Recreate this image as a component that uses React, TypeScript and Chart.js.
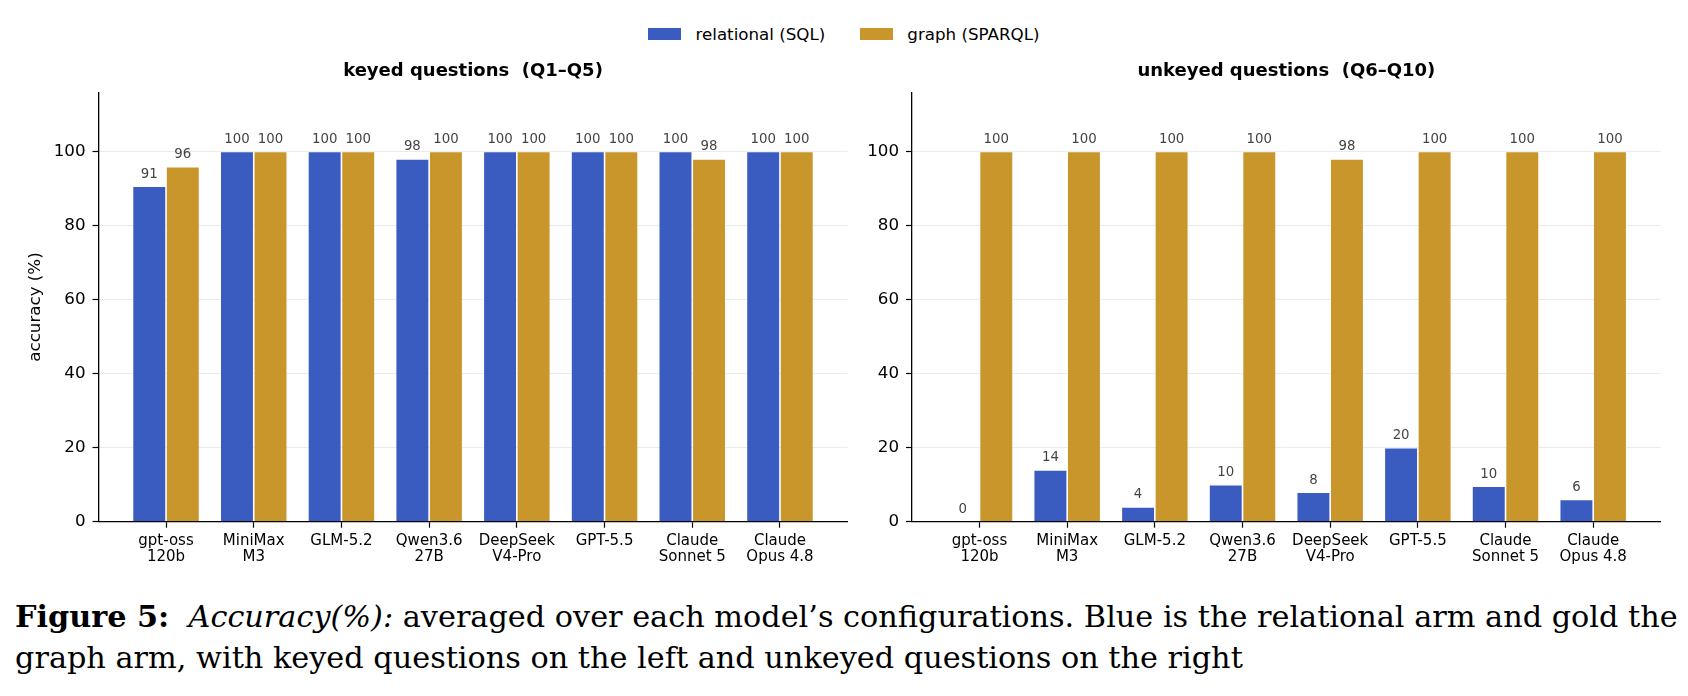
import { useEffect, useRef } from 'react';
import { Chart, registerables } from 'chart.js';

Chart.register(...registerables);
Chart.defaults.font.family = '"DejaVu Sans", sans-serif';

// chart data
const models = [
  ['gpt-oss', '120b'],
  ['MiniMax', 'M3'],
  ['GLM-5.2'],
  ['Qwen3.6', '27B'],
  ['DeepSeek', 'V4-Pro'],
  ['GPT-5.5'],
  ['Claude', 'Sonnet 5'],
  ['Claude', 'Opus 4.8'],
];
const seriesNames = ['relational (SQL)', 'graph (SPARQL)'];
const keyedSql = [90.6, 100, 100, 98, 100, 100, 100, 100];
const keyedSparql = [95.9, 100, 100, 100, 100, 100, 98, 100];
const unkeyedSql = [0, 14, 4, 10, 8, 20, 9.6, 6];
const unkeyedSparql = [100, 100, 100, 100, 98, 100, 100, 100];
const yTicks = [0, 20, 40, 60, 80, 100];
const panelTitles = ['keyed questions  (Q1–Q5)', 'unkeyed questions  (Q6–Q10)'];
const yTitle = 'accuracy (%)';

const BLUE = '#3a5bbf';
const GOLD = '#c9962c';
const colors = [BLUE, GOLD];

const valueLabels = {
  id: 'valueLabels',
  afterDatasetsDraw(chart) {
    const { ctx } = chart;
    ctx.save();
    ctx.font = '13.3px "DejaVu Sans"';
    ctx.fillStyle = '#444';
    ctx.textAlign = 'center';
    ctx.textBaseline = 'alphabetic';
    chart.data.datasets.forEach((ds, di) => {
      const meta = chart.getDatasetMeta(di);
      meta.data.forEach((bar, i) => {
        const v = ds.data[i].y;
        ctx.fillText(String(Math.round(v)), bar.x, bar.y - 8.5);
      });
    });
    ctx.restore();
  },
};

function Panel({ title, sql, sparql, showYTitle, axisWidth, padRight }) {
  const ref = useRef(null);

  useEffect(() => {
    const chart = new Chart(ref.current, {
      type: 'bar',
      data: {
        datasets: [sql, sparql].map((vals, k) => ({
          label: seriesNames[k],
          data: vals.map((y, i) => ({ x: i, y })),
          backgroundColor: colors[k],
          borderColor: 'rgba(255,255,255,0.3)',
          borderWidth: 0.8,
        })),
      },
      options: {
        animation: false,
        responsive: true,
        maintainAspectRatio: false,
        layout: { padding: { left: 0, right: padRight, top: 0, bottom: 0 } },
        datasets: { bar: { categoryPercentage: 0.765, barPercentage: 1 } },
        plugins: {
          legend: { display: false },
          tooltip: { enabled: false },
          title: {
            display: true,
            text: title,
            fullSize: false,
            color: '#000',
            font: { size: 18, weight: 'bold', lineHeight: 1.2 },
            padding: { top: 20.2, bottom: 10.5 },
          },
        },
        scales: {
          x: {
            type: 'linear',
            min: -0.77,
            max: 7.77,
            offset: false,
            afterBuildTicks: (s) => {
              s.ticks = models.map((_, i) => ({ value: i }));
            },
            afterFit: (s) => {
              s.height = 58.3;
            },
            ticks: {
              callback: (v) => models[v],
              color: '#000',
              font: { size: 15, lineHeight: 1.04 },
              padding: 6,
              maxRotation: 0,
              autoSkip: false,
            },
            grid: { offset: false, drawOnChartArea: false, tickLength: 6, tickColor: '#000', tickWidth: 1.2 },
            border: { color: '#000', width: 1.3 },
          },
          y: {
            min: 0,
            max: 116,
            afterBuildTicks: (s) => {
              s.ticks = yTicks.map((v) => ({ value: v }));
            },
            afterFit: (s) => {
              s.width = axisWidth;
            },
            ticks: { color: '#000', font: { size: 16.7 }, padding: 7 },
            grid: { color: '#ebebeb', lineWidth: 1, tickColor: '#000', tickLength: 6, tickWidth: 1.2 },
            border: { color: '#000', width: 1.3 },
            title: {
              display: showYTitle,
              text: yTitle,
              color: '#000',
              font: { size: 16.7, lineHeight: 1.2 },
              padding: { top: 26, bottom: 0 },
            },
          },
        },
      },
      plugins: [valueLabels],
    });

    return () => {
      chart.destroy();
    };
  }, [title, sql, sparql, showYTitle, axisWidth, padRight]);

  return <canvas ref={ref} />;
}

export default function App() {
  return (
    <div style={{ position: 'absolute', left: 0, top: 0, width: 1688, height: 696, background: '#fff', overflow: 'hidden' }}>
      <div
        style={{
          position: 'absolute', left: 0, top: 22, width: 1688, height: 24,
          display: 'flex', justifyContent: 'center', alignItems: 'center',
          fontFamily: '"DejaVu Sans", sans-serif', fontSize: 16.7, color: '#000',
        }}
      >
        {seriesNames.map((name, k) => (
          <div key={name} style={{ display: 'flex', alignItems: 'center', marginLeft: k ? 35 : 0 }}>
            <span style={{ display: 'inline-block', width: 33, height: 11.6, background: colors[k], marginRight: 14 }} />
            <span>{name}</span>
          </div>
        ))}
      </div>

      <div style={{ position: 'absolute', left: 0, top: 40, width: 860, height: 540 }}>
        <Panel title={panelTitles[0]} sql={keyedSql} sparql={keyedSparql} showYTitle={true} axisWidth={98.5} padRight={12.5} />
      </div>
      <div style={{ position: 'absolute', left: 860, top: 40, width: 828, height: 540 }}>
        <Panel title={panelTitles[1]} sql={unkeyedSql} sparql={unkeyedSparql} showYTitle={false} axisWidth={52} padRight={27.3} />
      </div>

      <div
        style={{
          position: 'absolute', left: 15, top: 596, width: 1659,
          fontFamily: '"DejaVu Serif", serif', fontSize: 30.3, lineHeight: '41px', color: '#000',
        }}
      >
        <div style={{ textAlign: 'justify', textAlignLast: 'justify', whiteSpace: 'nowrap' }}>
          <b>Figure 5:</b>&nbsp; <i>Accuracy(%):</i> averaged over each model’s configurations. Blue is the relational arm and gold the
        </div>
        <div>graph arm, with keyed questions on the left and unkeyed questions on the right</div>
      </div>
    </div>
  );
}
